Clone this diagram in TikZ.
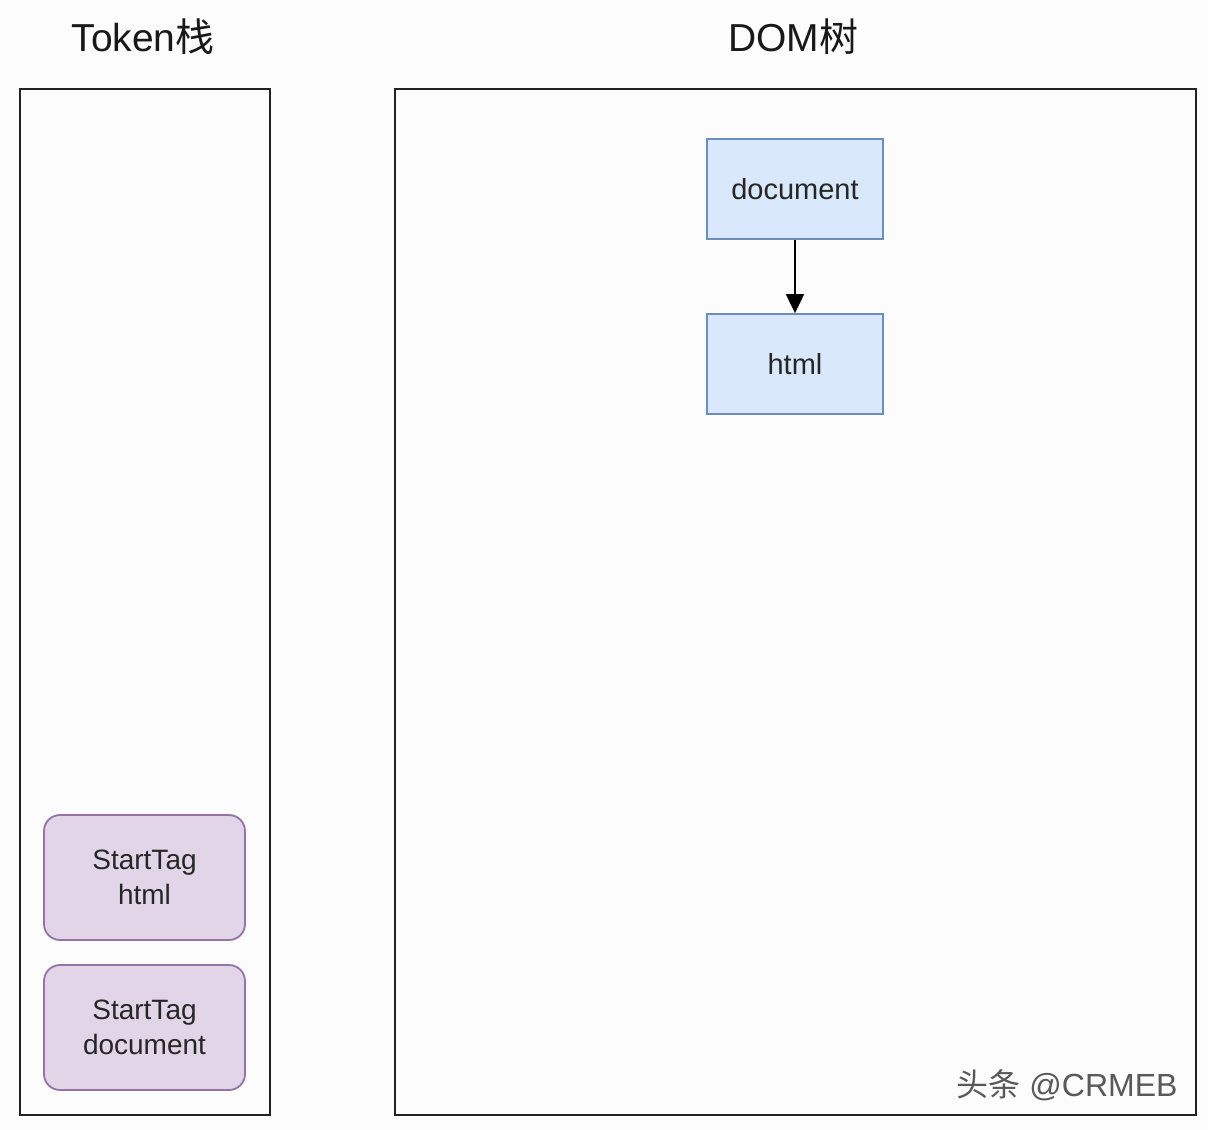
\documentclass[tikz,border=0pt]{standalone}
\usepackage{fontspec}
\setmainfont{Liberation Sans}
\newfontfamily\cjk{Noto Sans CJK SC}
\usetikzlibrary{arrows.meta}
\definecolor{bluefill}{HTML}{DAE8FC}
\definecolor{blueline}{HTML}{6C8EBF}
\definecolor{purfill}{HTML}{E1D5E7}
\definecolor{purline}{HTML}{9673A6}
\definecolor{frameline}{HTML}{222222}
\begin{document}
\begin{tikzpicture}[x=1pt,y=-1pt,
  frame/.style={draw=frameline,line width=2.5pt},
  title/.style={font=\fontsize{39}{44}\selectfont,text=black!90},
  domnode/.style={draw=blueline,fill=bluefill,line width=1.8pt,minimum width=176pt,minimum height=100pt,inner sep=0pt,font=\fontsize{29}{34}\selectfont,text=black!85},
  tokennode/.style={draw=purline,fill=purfill,line width=1.8pt,rounded corners=16pt,minimum width=201pt,minimum height=125pt,inner sep=0pt,align=center,font=\fontsize{28}{35}\selectfont,text=black!85},
  link/.style={draw=black,line width=2pt,-{Triangle[length=19pt,width=18pt]}}
  ]
\useasboundingbox (0,0) rectangle (1208,1130);
\fill[white!99!black] (0,0) rectangle (1208,1130);
\node[title] (t1) at (143,37) {Token{\cjk 栈}};
\node[title] (t2) at (793,37) {DOM{\cjk 树}};
\draw[frame] (20,89) rectangle (270,1115);
\draw[frame] (395,89) rectangle (1196,1115);
\node[domnode] (doc) at (795,189) {document};
\node[domnode] (html) at (795,364) {html};
\draw[link] (doc.south) -- (html.north);
\node[tokennode] (s1) at (144.5,877.5) {StartTag\\html};
\node[tokennode] (s2) at (144.5,1027.5) {StartTag\\document};
\node[font=\fontsize{32}{36}\selectfont,text=black!65] (wm) at (1067,1085) {{\cjk 头条} @CRMEB};
\end{tikzpicture}
\end{document}
